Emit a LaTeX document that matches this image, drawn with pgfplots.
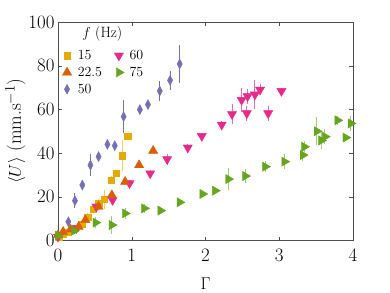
\documentclass[border=0pt]{standalone}
\usepackage{pgfplots}
\pgfplotsset{compat=1.18}
\definecolor{cA}{HTML}{E6AB02}
\definecolor{cB}{HTML}{D95F02}
\definecolor{cC}{HTML}{7570B3}
\definecolor{cD}{HTML}{E7298A}
\definecolor{cE}{HTML}{66A61E}
\begin{document}
\begin{tikzpicture}
\path (-58bp,-52.5bp) rectangle (332bp,240.5bp);
\begin{axis}[
  at={(0,0)}, anchor=south west,
  scale only axis, width=295bp, height=218.5bp,
  xmin=0, xmax=4, ymin=0, ymax=100,
  xtick={0,1,2,3,4}, ytick={0,20,40,60,80,100},
  tick align=inside, tick pos=both,
  major tick length=4bp,
  axis line style={line width=0.8pt, black!70},
  tick style={black!70},
  /pgf/number format/assume math mode=true,
  ticklabel style={font=\fontsize{19}{19}\selectfont},
  xticklabel style={yshift=-5bp},
  xlabel={$\Gamma$}, ylabel={$\langle U\rangle$ (mm.s$^{-1}$)},
  label style={font=\fontsize{19}{19}\selectfont},
  xlabel style={yshift=-9bp},
  ylabel style={yshift=-4bp},
  legend columns=2,
  legend style={draw=none, fill=none, at={(rel axis cs:0.0,0.89)}, anchor=north west,
    font=\fontsize{14}{15}\selectfont, row sep=2bp,
    /tikz/every even column/.append style={column sep=9bp}},
  legend image code/.code={\path (0cm,0cm) (0.5cm,0cm); \draw[#1] plot[only marks] coordinates {(0.2cm,0cm)};},
  legend cell align=left,
  error bars/y dir=both, error bars/y explicit,
  error bars/error mark=none,
  only marks,
]
% 15 Hz
\addplot+[mark=square*, mark size=3.2bp, color=cA, mark options={fill=cA, draw=cA},
  error bars/error bar style={cA!60, line width=1pt}]
  table[x=x, y=y, y error=e] {
x y e
0.02 1.7 1
0.07 2.8 1
0.14 3.7 1
0.23 5.6 1.5
0.32 7.5 1.5
0.40 10.6 2
0.48 14.4 2
0.55 17 2
0.63 18.8 4.5
0.72 27.7 2
0.79 30.7 1.5
0.87 38.8 7
0.945 47.8 1.5
};
\addlegendentry{15}
% 60 Hz
\addplot+[mark=triangle*, mark size=5.3bp, mark options={rotate=180, fill=cD, draw=cD}, color=cD,
  error bars/error bar style={cD!70, line width=1pt}]
  table[x=x, y=y, y error=e] {
x y e
0.0 1.7 1
0.25 5.6 1
0.52 15.5 1.5
0.74 18.5 1.5
0.97 26.2 1.5
1.25 30.7 1.5
1.48 37.2 2.5
1.76 42.5 1.5
1.95 47.8 1.5
2.22 53.0 1.5
2.36 57.8 4.5
2.56 58.2 3.5
2.85 58.2 3.5
2.49 64.3 5.5
2.57 66.0 3.5
2.67 66.8 6.8
2.74 69.0 2.5
3.03 68.4 1.5
};
\addlegendentry{60}
% 22.5 Hz
\addplot+[mark=triangle*, mark size=5.3bp, color=cB, mark options={fill=cB, draw=cB},
  error bars/error bar style={cB!60, line width=1pt}]
  table[x=x, y=y, y error=e] {
x y e
0.0 2.5 1
0.07 4.0 1
0.17 5.1 1
0.28 6.3 1
0.37 9.4 1.5
0.55 15.5 1.5
0.73 20.8 2
0.91 26.9 1.5
1.10 34.5 1.5
1.29 41.1 1.5
};
\addlegendentry{22.5}
% 75 Hz
\addplot+[mark=triangle*, mark size=5.3bp, mark options={rotate=-90, fill=cE, draw=cE}, color=cE,
  error bars/error bar style={cE!60, line width=1pt}]
  table[x=x, y=y, y error=e] {
x y e
0.0 2.2 1
0.22 4.5 1.5
0.51 8.2 2.5
0.73 7.1 4
0.91 12.4 2.5
1.17 14.7 2
1.39 13.7 1
1.65 17.5 1
1.96 21.3 1
2.13 22.8 1
2.31 28.1 5
2.54 29.5 3
2.81 33.8 2.5
3.07 36.1 3.5
3.32 39.1 2.5
3.34 42.9 2.5
3.51 50.0 6.5
3.57 45.8 4
3.62 47.5 3.5
3.90 47.1 1.5
3.79 55.0 2
3.97 53.6 3.5
};
\addlegendentry{75}
% 50 Hz
\addplot+[mark=diamond*, mark size=5bp, color=cC, mark options={fill=cC, draw=cC, xscale=0.7},
  error bars/error bar style={cC, line width=1pt}]
  table[x=x, y=y, y error=e] {
x y e
0.14 8.6 1.5
0.23 18.2 3.5
0.33 25.4 2.5
0.44 34.5 5
0.55 38.4 2
0.67 44 1.5
0.77 43.4 1.5
0.89 56.7 7.5
1.11 59.9 2
1.22 62.2 1.5
1.38 68.4 4.5
1.52 73.3 4.5
1.65 80.8 8.5
};
\addlegendentry{50}
\node[font=\fontsize{15}{15}\selectfont, anchor=center] at (rel axis cs:0.15,0.945) {$f$ (Hz)};
\end{axis}
\end{tikzpicture}
\end{document}
